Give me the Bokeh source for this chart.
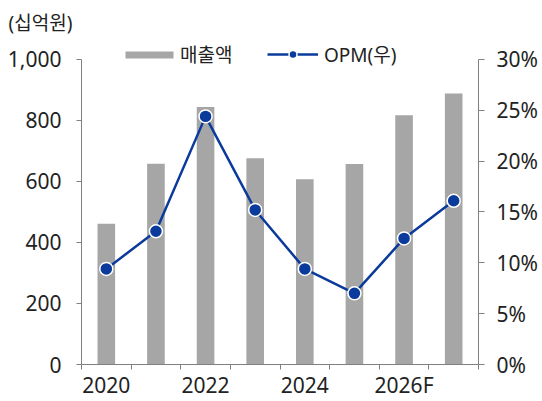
from bokeh.plotting import figure
from bokeh.models import (Range1d, LinearAxis, FixedTicker, NumeralTickFormatter,
                          PrintfTickFormatter, Legend, LegendItem, Title, ColumnDataSource)
from bokeh.embed import file_html
from bokeh.resources import INLINE

# ---- data ----
years = ["2020", "2021", "2022", "2023", "2024", "2025", "2026F", "2027F"]
sales = [461, 658, 844, 676, 607, 657, 817, 888]          # 매출액 (십억원)
opm = [9.4, 13.1, 24.4, 15.2, 9.4, 7.0, 12.4, 16.1]        # OPM (%)
x_tick_labels = ["2020", "2022", "2024", "2026F"]
y_left_ticks = [0, 200, 400, 600, 800, 1000]
y_right_ticks = [0, 5, 10, 15, 20, 25, 30]

BAR = "#A6A6A6"
NAVY = "#0A3A9C"
AXIS = "#808080"
TXT = "#222222"
FONT = "Noto Sans, Noto Sans CJK KR"

# layout (pixels)
TOP, BOTTOM = 36, 365          # frame top/bottom on canvas
AX_TOP = 59                    # where 1,000 / 30% sit
frame_h = BOTTOM - TOP
left_max = 1000 * frame_h / (BOTTOM - AX_TOP)
right_max = 30 * frame_h / (BOTTOM - AX_TOP)

xs = [i + 0.5 for i in range(len(years))]
src = ColumnDataSource(dict(x=xs, sales=sales, opm=opm, year=years))

p = figure(width=542, height=401, output_backend="svg", toolbar_location=None,
           x_range=Range1d(0, len(years)), y_range=Range1d(0, left_max),
           x_axis_location=None, y_axis_location=None, title=None,
           min_border_left=81, min_border_right=64, min_border_top=TOP, min_border_bottom=401 - BOTTOM)
p.extra_y_ranges = {"opm": Range1d(0, right_max)}
p.grid.visible = False
p.outline_line_color = None
p.background_fill_color = "white"
p.border_fill_color = "white"

bars = p.vbar(x="x", top="sales", width=0.355, source=src, fill_color=BAR, line_color=None)
line = p.line(x="x", y="opm", source=src, y_range_name="opm", line_color=NAVY, line_width=2.5)
pts = p.scatter(x="x", y="opm", source=src, y_range_name="opm", size=13,
                fill_color=NAVY, line_color="white", line_width=1.5)


def style_axis(ax):
    ax.axis_line_color = AXIS
    ax.major_tick_line_color = AXIS
    ax.minor_tick_line_color = None
    ax.major_tick_in = 0
    ax.major_tick_out = 5
    ax.major_label_text_font = FONT
    ax.major_label_text_font_size = "21px"
    ax.major_label_text_color = TXT


# x axis: labels at centers of every other category, ticks at boundaries
label_pos = [xs[years.index(t)] for t in x_tick_labels]
xax = LinearAxis(ticker=FixedTicker(ticks=label_pos, minor_ticks=list(range(len(years) + 1))))
style_axis(xax)
xax.major_tick_line_color = None
xax.minor_tick_line_color = AXIS
xax.minor_tick_in = 0
xax.minor_tick_out = 5
xax.major_label_standoff = 1
xax.major_label_overrides = {pos: t for pos, t in zip(label_pos, x_tick_labels)}
p.add_layout(xax, "below")

yl = LinearAxis(ticker=FixedTicker(ticks=y_left_ticks), formatter=NumeralTickFormatter(format="0,0"),
                bounds=(0, 1000))
style_axis(yl)
yl.major_label_standoff = 15
p.add_layout(yl, "left")

yr = LinearAxis(y_range_name="opm", ticker=FixedTicker(ticks=y_right_ticks),
                formatter=PrintfTickFormatter(format="%d%%"), bounds=(0, 30))
style_axis(yr)
yr.major_tick_out = 6
yr.major_label_standoff = 12
p.add_layout(yr, "right")

# legends
def make_legend(items, x, y, gw, gh, standoff):
    lg = Legend(items=items, location=(x, y), orientation="horizontal",
                glyph_width=gw, glyph_height=gh, label_standoff=standoff,
                label_text_font=FONT, label_text_font_size="19px", label_text_color=TXT,
                padding=0, margin=0, spacing=0, border_line_color=None,
                background_fill_alpha=0, label_height=20)
    p.add_layout(lg, "center")

make_legend([LegendItem(label="매출액", renderers=[bars])], 38, BOTTOM - 69, 60, 9, 1)
make_legend([LegendItem(label="OPM(우)", renderers=[line, pts])], 186, BOTTOM - 69, 51, 20, 6)

p.add_layout(Title(text="(십억원)", align="left", offset=-73, standoff=2,
                   text_font=FONT, text_font_size="19px", text_font_style="normal",
                   text_color=TXT), "above")

open("out.html", "w").write(file_html(p, INLINE))
